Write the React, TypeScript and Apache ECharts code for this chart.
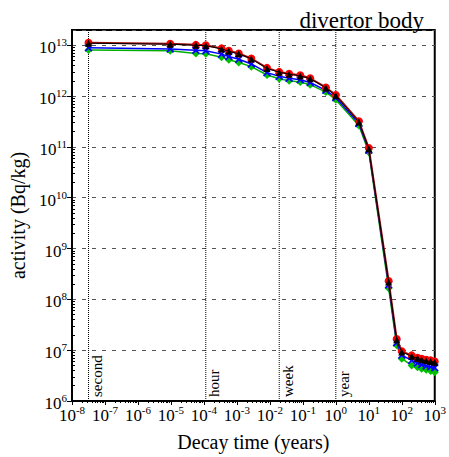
import React, { useEffect, useRef } from 'react';
import * as echarts from 'echarts';

// Decay times (years)
const times = [3.17e-8, 9.5e-6, 5.7e-5, 1.14e-4, 3.42e-4, 5.7e-4, 1.14e-3, 2.74e-3, 8.2e-3, 1.92e-2, 3.83e-2, 8.33e-2, 0.167, 0.5, 1, 5, 10, 40, 70, 100, 200, 300, 400, 550, 750, 1000];

// Activity (Bq/kg) per curve
const redVals = [1.12e13, 1.07e13, 1.02e13, 1.0e13, 8.7e12, 7.8e12, 6.9e12, 5.5e12, 3.6e12, 3.0e12, 2.75e12, 2.57e12, 2.24e12, 1.48e12, 1.05e12, 3.2e11, 9.5e10, 2.3e8, 1.66e7, 9.5e6, 7.9e6, 7.1e6, 6.8e6, 6.5e6, 6.3e6, 6.0e6];
const blackVals = [1.1e13, 1.05e13, 1.0e13, 9.8e12, 8.5e12, 7.6e12, 6.8e12, 5.4e12, 3.5e12, 2.95e12, 2.7e12, 2.5e12, 2.2e12, 1.45e12, 1.02e12, 3.1e11, 9.2e10, 2.2e8, 1.6e7, 9.2e6, 7.6e6, 6.9e6, 6.5e6, 6.2e6, 6.0e6, 5.8e6];
const blueVals = [8.9e12, 8.5e12, 8.0e12, 7.8e12, 6.7e12, 6.0e12, 5.3e12, 4.3e12, 2.9e12, 2.45e12, 2.25e12, 2.1e12, 1.85e12, 1.3e12, 9.3e11, 2.9e11, 8.6e10, 1.95e8, 1.4e7, 8.0e6, 6.3e6, 5.6e6, 5.2e6, 4.9e6, 4.7e6, 4.5e6];
const greenVals = [8.1e12, 7.8e12, 6.9e12, 6.8e12, 5.8e12, 5.2e12, 4.6e12, 3.8e12, 2.6e12, 2.2e12, 2.0e12, 1.9e12, 1.68e12, 1.2e12, 8.5e11, 2.65e11, 7.9e10, 1.66e8, 1.25e7, 6.8e6, 5.0e6, 4.6e6, 4.3e6, 4.1e6, 3.9e6, 3.7e6];

// Reference time markers
const markerNames = ['second', 'hour', 'week', 'year'];
const markerTimes = [3.17e-8, 1.14e-4, 1.92e-2, 1];

const Y_MIN = 1e6;
const Y_MAX = 2e13;
const X_MIN = 1e-8;
const X_MAX = 1e3;

const SERIF = '"Liberation Serif", "DejaVu Serif", serif';
const X_SYMBOL = 'path://M0,1.5 L1.5,0 L5,3.5 L8.5,0 L10,1.5 L6.5,5 L10,8.5 L8.5,10 L5,6.5 L1.5,10 L0,8.5 L3.5,5 Z';

const pow10Label = (v: number) => {
  const e = Math.round(Math.log10(v));
  return `{b|10}{s|${e}}`;
};

const richStyle = {
  b: { fontSize: 17, lineHeight: 17, fontFamily: SERIF, color: '#000', padding: [5, 0, 0, 0] },
  s: { fontSize: 11, lineHeight: 11, fontFamily: SERIF, color: '#000', verticalAlign: 'top' },
};

export default function App() {
  const ref = useRef<HTMLDivElement>(null);
  useEffect(() => {
    if (!ref.current) return;
    const chart = echarts.init(ref.current, undefined, { renderer: 'svg' });
    const pairs = (vals: number[]) => times.map((t, i) => [t, vals[i]]);
    const markerSeries = markerTimes.map((t, i) => ({
      name: markerNames[i],
      type: 'line',
      data: [[t, Y_MIN], [t, Y_MAX]],
      symbol: 'none',
      silent: true,
      lineStyle: { color: '#000', type: 'dotted', width: 1 },
      z: 1,
    }));
    chart.setOption({
      animation: false,
      backgroundColor: '#fff',
      title: {
        text: 'divertor body',
        right: 20,
        top: 4,
        textStyle: { fontFamily: SERIF, fontSize: 23, fontWeight: 'normal', color: '#000' },
      },
      grid: { left: 72, right: 12, top: 30, bottom: 50, show: true, borderColor: '#000', borderWidth: 2, backgroundColor: 'transparent' },
      xAxis: {
        type: 'log',
        logBase: 10,
        min: X_MIN,
        max: X_MAX,
        interval: 1,
        name: 'Decay time (years)',
        nameLocation: 'middle',
        nameGap: 31,
        nameTextStyle: { fontFamily: SERIF, fontSize: 20, color: '#000' },
        axisLine: { show: true, lineStyle: { color: '#000', width: 2 } },
        axisTick: { show: true, length: 4, lineStyle: { color: '#000' } },
        minorTick: { show: true, splitNumber: 9, length: 2, lineStyle: { color: '#000' } },
        axisLabel: { formatter: pow10Label, rich: richStyle, margin: 3, hideOverlap: false, showMinLabel: true, showMaxLabel: true },
        splitLine: { show: false },
      },
      yAxis: [
        {
          type: 'log',
          logBase: 10,
          min: Y_MIN,
          max: Y_MAX,
          interval: 1,
          name: 'activity (Bq/kg)',
          nameLocation: 'middle',
          nameGap: 44,
          nameTextStyle: { fontFamily: SERIF, fontSize: 20, color: '#000' },
          axisLine: { show: true, lineStyle: { color: '#000', width: 2 } },
          axisTick: { show: true, length: 5, lineStyle: { color: '#000' } },
          axisLabel: { formatter: pow10Label, rich: richStyle, margin: 5 },
          splitLine: { show: true, lineStyle: { color: '#555', width: 1, type: [4, 6] } },
        },
        {
          type: 'log',
          logBase: 10,
          min: Y_MIN,
          max: Y_MAX,
          interval: 1,
          position: 'left',
          axisLine: { show: false },
          axisTick: { show: false, inside: true },
          minorTick: { show: true, splitNumber: 9, length: 3, lineStyle: { color: '#000' } },
          axisLabel: { show: false },
          splitLine: { show: false },
        },
      ],
      series: [
        ...markerSeries,
        {
          name: 'green', type: 'line', data: pairs(greenVals),
          symbol: 'diamond', symbolSize: 8,
          lineStyle: { color: '#00b000', width: 1.5 },
          itemStyle: { color: '#00c000' },
          z: 2,
        },
        {
          name: 'blue', type: 'line', data: pairs(blueVals),
          symbol: X_SYMBOL, symbolSize: 8,
          lineStyle: { color: '#0000ff', width: 1.5 },
          itemStyle: { color: '#0000ff' },
          z: 3,
        },
        {
          name: 'red', type: 'line', data: pairs(redVals),
          symbol: 'circle', symbolSize: 8,
          lineStyle: { color: '#a01010', width: 2 },
          itemStyle: { color: '#ff0000' },
          z: 4,
        },
        {
          name: 'black', type: 'line', data: pairs(blackVals),
          symbol: 'triangle', symbolSize: 7,
          lineStyle: { color: '#000', width: 1 },
          itemStyle: { color: '#000' },
          z: 5,
        },
      ],
    });
    // Rotated labels for the time markers, placed through the axis scales
    const labels = markerTimes.map((t, i) => {
      const p = chart.convertToPixel({ xAxisIndex: 0, yAxisIndex: 0 }, [t, Y_MIN]) as number[];
      return {
        type: 'text',
        x: p[0] + 1,
        y: p[1] - 4,
        rotation: Math.PI / 2,
        silent: true,
        style: {
          text: markerNames[i],
          fontFamily: SERIF,
          fontSize: 15,
          fill: '#000',
          textAlign: 'left',
          textVerticalAlign: 'top',
        },
      };
    });
    chart.setOption({ graphic: labels });
    return () => chart.dispose();
  }, []);
  return <div ref={ref} style={{ position: 'fixed', left: 0, top: 0, width: 449, height: 457 }} />;
}
